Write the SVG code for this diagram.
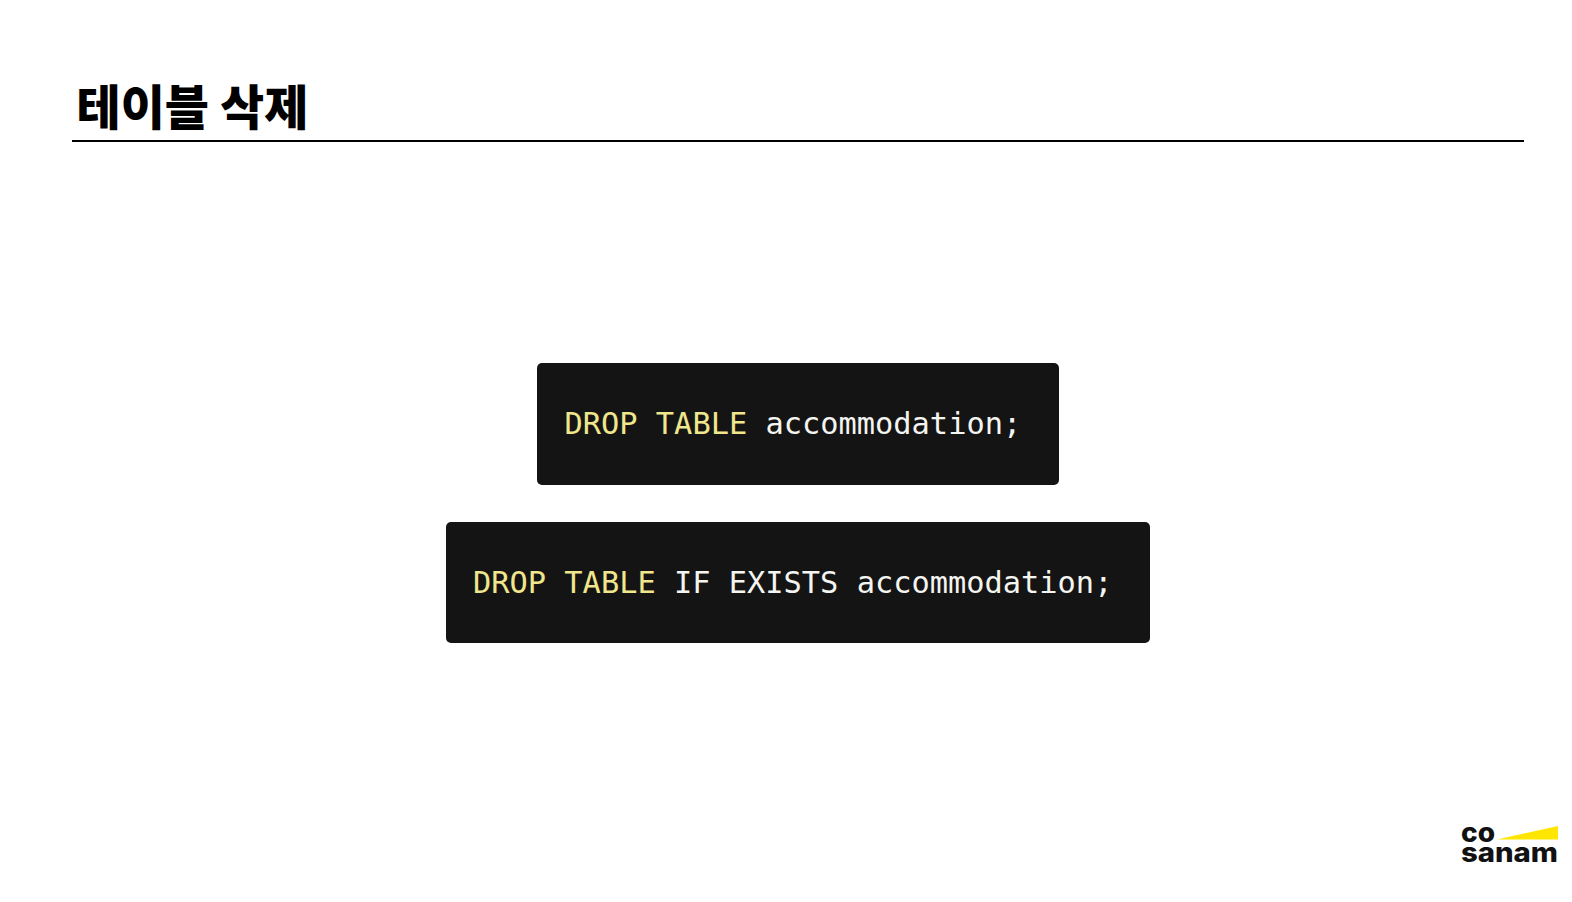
<svg xmlns="http://www.w3.org/2000/svg" width="1572" height="902" viewBox="0 0 1572 902">
<style>
.box{fill:#141414}
.code{font-family:"DejaVu Sans Mono",monospace;font-size:30.35px;fill:#f4f4f0}
.kw{fill:#f0e68c}
.logo{font-family:"Inter","Noto Sans",sans-serif;font-weight:800;font-size:27px;fill:#111}
</style>
<rect width="1572" height="902" fill="#fff"/>
<text x="76.5" y="125" font-family="Noto Sans CJK KR, sans-serif" font-weight="900" font-size="48" fill="#000">테이블 삭제</text>
<rect x="72" y="140" width="1452" height="2" fill="#000"/>
<g id="code1"><rect class="box" x="537" y="363" width="522" height="122" rx="5"/>
<text class="code" x="564.5" y="434"><tspan class="kw">DROP TABLE</tspan> accommodation;</text></g>
<g id="code2"><rect class="box" x="446" y="522" width="704" height="121" rx="5"/>
<text class="code" x="473" y="593"><tspan class="kw">DROP TABLE</tspan> IF EXISTS accommodation;</text></g>
<g id="logo"><path d="M1497 839.500L1558 826V839.500Z" fill="#ffe600"/>
<text class="logo" x="1461" y="841.500" textLength="34" lengthAdjust="spacingAndGlyphs">co</text>
<text class="logo" x="1461" y="862" textLength="97" lengthAdjust="spacingAndGlyphs">sanam</text></g>
</svg>
